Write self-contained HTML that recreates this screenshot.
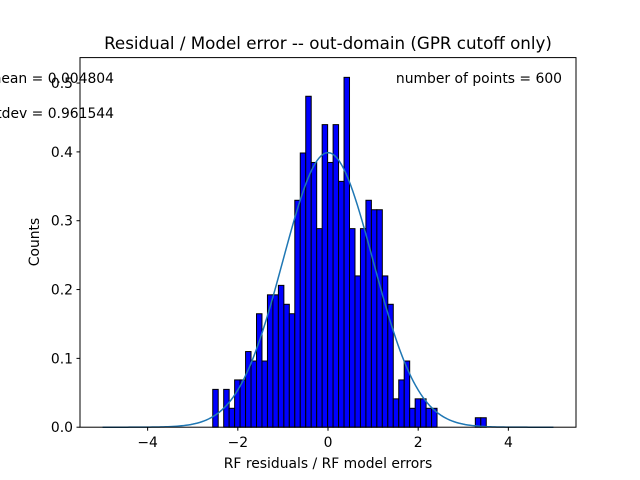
<!DOCTYPE html>
<html><head><meta charset="utf-8"><style>body{margin:0;background:#fff}svg{display:block;font-family:"DejaVu Sans","Liberation Sans",sans-serif}</style></head>
<body>
<svg id="chart" width="640" height="480">
<rect width="640" height="480" fill="#fff"/>
<g id="bars"></g>
<g id="curve"></g>
<g id="axes"></g>
<text x="328" y="49" font-size="16.7" text-anchor="middle">Residual / Model error -- out-domain (GPR cutoff only)</text>
<text x="114" y="83" font-size="13.9" text-anchor="end">mean = 0.004804</text>
<text x="114" y="118" font-size="13.9" text-anchor="end">stdev = 0.961544</text>
<text x="562" y="83" font-size="13.9" text-anchor="end">number of points = 600</text>
<text x="328" y="468" font-size="13.9" text-anchor="middle">RF residuals / RF model errors</text>
<text x="39" y="242" font-size="13.9" text-anchor="middle" transform="rotate(-90 39 242)">Counts</text>
</svg>
<script>
const counts = [4,0,4,2,5,5,8,7,12,7,14,14,15,13,12,24,29,35,28,21,32,28,32,26,37,21,16,21,24,23,23,16,13,3,5,7,2,3,3,2,2,0,0,0,0,0,0,0,1,1];
const binStart = -2.556;
const binEnd = 3.51;
const totalPoints = 600;
const curveMean = 0;
const curveStd = 1;
const xTicks = [-4,-2,0,2,4];
const yTicks = [0.0,0.1,0.2,0.3,0.4,0.5];
const yTickLabels = ["0.0","0.1","0.2","0.3","0.4","0.5"];

const L=80,R=576,T=57.6,B=427.2,xmin=-5.5,xmax=5.5,ymin=0,ymax=0.537;
const X=v=>L+(v-xmin)/(xmax-xmin)*(R-L);
const Y=v=>B-(v-ymin)/(ymax-ymin)*(B-T);
const NS='http://www.w3.org/2000/svg';
function mk(tag,attrs,parent){const e=document.createElementNS(NS,tag);for(const k in attrs)e.setAttribute(k,attrs[k]);parent.appendChild(e);return e;}
const w=(binEnd-binStart)/counts.length;
const gb=document.getElementById('bars');
counts.forEach((c,i)=>{
  if(c===0)return;
  const d=c/(totalPoints*w);
  const r=mk('rect',{x:X(binStart+i*w),y:Y(d),width:X(binStart+(i+1)*w)-X(binStart+i*w),height:Y(0)-Y(d),fill:'#0000ff',stroke:'#000','stroke-width':1},gb);
  
  
});
const gc=document.getElementById('curve');
let pts=[];
for(let k=0;k<=200;k++){const x=-5+k*0.05;const y=Math.exp(-0.5*((x-curveMean)/curveStd)**2)/(curveStd*Math.sqrt(2*Math.PI));pts.push(X(x).toFixed(2)+','+Y(y).toFixed(2));}
const pl=mk('polyline',{points:pts.join(' '),fill:'none',stroke:'#1f77b4','stroke-width':1.5},gc);


const ga=document.getElementById('axes');
const fr=mk('rect',{x:L,y:T,width:R-L,height:B-T,fill:'none',stroke:'#000','stroke-width':1},ga);


xTicks.forEach(t=>{
  const l=mk('line',{x1:X(t),x2:X(t),y1:B,y2:B+3.5,stroke:'#000'},ga);
  
  
  const tx=mk('text',{x:X(t),y:B+20,'font-size':13.9,'text-anchor':'middle'},ga);
  tx.textContent=(t<0?'\u2212'+(-t):''+t);
  
  
});
yTicks.forEach((t,i)=>{
  const l=mk('line',{x1:L-3.5,x2:L,y1:Y(t),y2:Y(t),stroke:'#000'},ga);
  
  
  const tx=mk('text',{x:L-7,y:Y(t)+5,'font-size':13.9,'text-anchor':'end'},ga);
  tx.textContent=yTickLabels[i];
  
  
});
</script>
</body></html>
